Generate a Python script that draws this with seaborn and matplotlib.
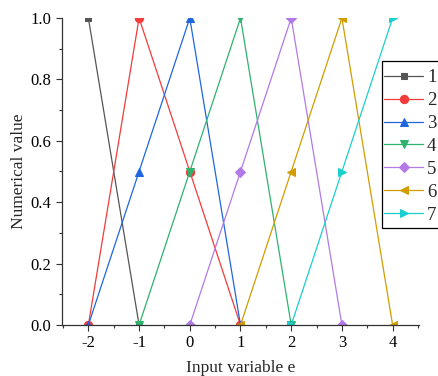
import matplotlib
matplotlib.use("Agg")
import matplotlib.pyplot as plt
import seaborn as sns
import pandas as pd
from matplotlib.ticker import MultipleLocator
from matplotlib.patches import Rectangle

sns.set_style("ticks")
plt.rcParams['font.family'] = ['Liberation Serif', 'DejaVu Serif']
plt.rcParams['axes.unicode_minus'] = False

labels = ["1", "2", "3", "4", "5", "6", "7"]
x1 = [-2, -1]; y1 = [1.0, 0.0]
x2 = [-2, -1, 0, 1]; y2 = [0.0, 1.0, 0.5, 0.0]
x3 = [-2, -1, 0, 1]; y3 = [0.0, 0.5, 1.0, 0.0]
x4 = [-1, 0, 1, 2]; y4 = [0.0, 0.5, 1.0, 0.0]
x5 = [0, 1, 2, 3]; y5 = [0.0, 0.5, 1.0, 0.0]
x6 = [1, 2, 3, 4]; y6 = [0.0, 0.5, 1.0, 0.0]
x7 = [2, 3, 4]; y7 = [0.0, 0.5, 1.0]

xs = [x1, x2, x3, x4, x5, x6, x7]
ys = [y1, y2, y3, y4, y5, y6, y7]
colors = ["#555555", "#f23b3b", "#1f66e0", "#2eb36e", "#b27ae6", "#d19d00", "#1ccfcf"]
markers = ["s", "o", "^", "v", "D", "<", ">"]
msizes = [5, 6, 6, 6, 5, 6, 6]

fig = plt.figure(figsize=(4.39, 3.76), dpi=100)
ax = fig.add_axes([62/439, 1-325/376, (419-62)/439, (325-18)/376])

for lab, x, y, c, m, ms in zip(labels, xs, ys, colors, markers, msizes):
    df = pd.DataFrame({"x": x, "y": y})
    sns.lineplot(data=df, x="x", y="y", ax=ax, color=c, marker=m, markersize=ms,
                 markeredgecolor=c, linewidth=0.9, label=lab, sort=False, clip_on=True)

for ln in ax.get_lines():
    ln.set_clip_on(True)
    ln.set_clip_box(ax.bbox)

ax.set_xlim(-2.52, 4.52)
ax.set_ylim(0, 1.0)
ax.xaxis.set_major_locator(MultipleLocator(1))
ax.xaxis.set_minor_locator(MultipleLocator(0.5))
ax.yaxis.set_major_locator(MultipleLocator(0.2))
ax.yaxis.set_minor_locator(MultipleLocator(0.1))
ax.yaxis.set_major_formatter(matplotlib.ticker.FormatStrFormatter('%.1f'))
ax.tick_params(axis='both', which='major', direction='out', length=4, width=0.8,
               labelsize=12, color='#333333', labelcolor='black')
ax.tick_params(axis='both', which='minor', direction='out', length=2.5, width=0.8, color='#333333')
for s in ['top', 'right']:
    ax.spines[s].set_visible(False)
for s in ['left', 'bottom']:
    ax.spines[s].set_color('#333333')
    ax.spines[s].set_linewidth(0.9)

ax.set_xlabel("Input variable e", fontsize=12.5, labelpad=6)
ax.set_ylabel("Numerical value", fontsize=12.5, labelpad=3)

leg = ax.legend(loc='upper left', bbox_to_anchor=(382/439, 1-67/376),
                bbox_transform=fig.transFigure, borderaxespad=0, frameon=False,
                fontsize=13.5, handlelength=2.08,
                handletextpad=0.21, borderpad=0.11, labelspacing=0.31)

# legend frame box
fig.patches.append(Rectangle((382/439, 1-228/376), 70/439, (228-61)/376,
                             transform=fig.transFigure, fill=False,
                             edgecolor='black', linewidth=0.9, zorder=5))

fig.savefig("out.png", dpi=100)
